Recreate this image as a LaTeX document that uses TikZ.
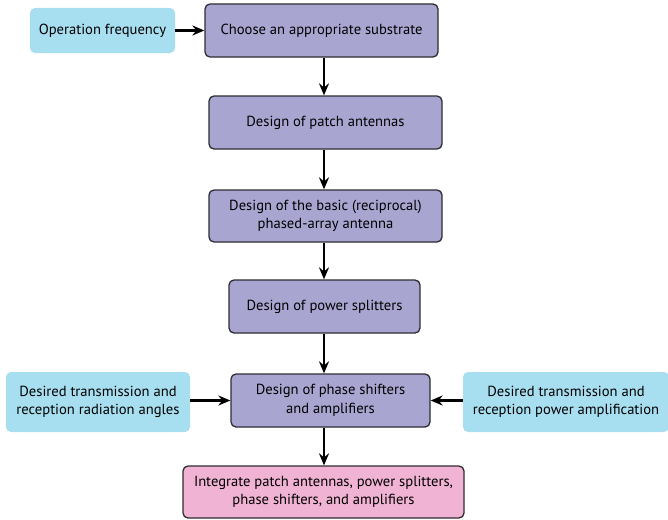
\documentclass[tikz,border=0pt]{standalone}
\usepackage{fontspec}
\setmainfont{PT Sans}
\usetikzlibrary{arrows.meta,calc}
\definecolor{purp}{RGB}{169,165,209}
\definecolor{lblue}{RGB}{168,223,240}
\definecolor{pinkb}{RGB}{240,179,211}
\definecolor{edge}{RGB}{45,45,50}
\begin{document}
\begin{tikzpicture}[x=1pt,y=-1pt,
  base/.style={rounded corners=5pt, align=center, font=\fontsize{14.6}{18.5}\selectfont, inner sep=0pt},
  proc/.style={base, fill=purp, draw=edge, line width=1.3pt},
  inbox/.style={base, fill=lblue},
  outbox/.style={base, fill=pinkb, draw=edge, line width=1.3pt},
  arr/.style={-{Stealth[length=12pt,width=10pt,inset=4pt]}, line width=2.3pt, black}]
\useasboundingbox (0,0) rectangle (668,519);
\node[inbox, minimum width=145pt, minimum height=45pt] (freq) at (102.5,30.5) {Operation frequency};
\node[proc, minimum width=233pt, minimum height=53pt] (sub) at (321.5,30.5) {Choose an appropriate substrate};
\node[proc, minimum width=233pt, minimum height=53pt] (patch) at (325.5,122.5) {Design of patch antennas};
\node[proc, minimum width=233pt, minimum height=52pt] (basic) at (325.5,216) {Design of the basic (reciprocal)\\phased-array antenna};
\node[proc, minimum width=191pt, minimum height=53pt] (split) at (324.5,306.5) {Design of power splitters};
\node[proc, minimum width=199pt, minimum height=53pt] (phase) at (330.5,400.5) {Design of phase shifters\\and amplifiers};
\node[inbox, minimum width=184pt, minimum height=60pt] (angles) at (98,402) {Desired transmission and\\reception radiation angles};
\node[inbox, minimum width=206pt, minimum height=60pt] (power) at (566,402) {Desired transmission and\\reception power amplification};
\node[outbox, minimum width=281pt, minimum height=52pt] (integ) at (323.5,492) {Integrate patch antennas, power splitters,\\phase shifters, and amplifiers};
\coordinate (ax) at (324,0);
\draw[arr] (freq.east) -- (sub.west |- freq.east);
\draw[arr] (sub.south -| ax) -- (patch.north -| ax);
\draw[arr] (patch.south -| ax) -- (basic.north -| ax);
\draw[arr] (basic.south -| ax) -- (split.north -| ax);
\draw[arr] (split.south -| ax) -- (phase.north -| ax);
\draw[arr] (phase.south -| ax) -- (integ.north -| ax);
\draw[arr] (angles.east |- phase.west) -- (phase.west);
\draw[arr] (power.west |- phase.east) -- (phase.east);
\end{tikzpicture}
\end{document}
